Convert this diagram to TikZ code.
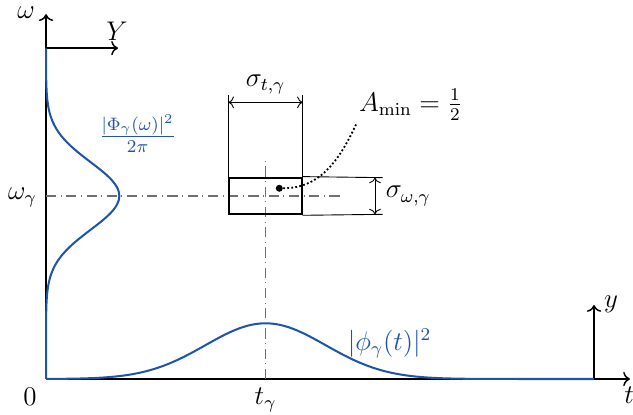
\documentclass[tikz,border=0pt]{standalone}
\usepackage{amsmath}
\usetikzlibrary{arrows.meta,positioning,calc}
\definecolor{WaveBlue}{RGB}{30,85,170}
\definecolor{GuideGray}{RGB}{110,110,110}

\begin{document}
\begin{tikzpicture}[
  axis/.style={->,line width=0.65pt},
  wave/.style={WaveBlue,line width=0.9pt},
  guide/.style={GuideGray,line width=0.5pt,dash pattern=on 4.5pt off 2pt on 0.5pt off 2pt},
  dim/.style={line width=0.4pt},
  lbl/.style={inner sep=1pt,font=\large},
]
\useasboundingbox (-0.719,-0.547) rectangle (9.172,5.922);
% axes
\coordinate (O) at (0,0);
\coordinate (tend) at (9.125,0);
\coordinate (wend) at (0,5.70);
\coordinate (Ystart) at (0,5.17);
\coordinate (Yend) at (1.125,5.17);
\coordinate (ystart) at (8.5625,0);
\coordinate (yend) at (8.5625,1.156);
\draw[axis] (O) -- (tend);
\draw[axis] (O) -- (wend);
\draw[axis] (Ystart) -- (Yend);
\draw[axis] (ystart) -- (yend);
\node[lbl] (tlab) at (9.11,-0.25) {$t$};
\node[lbl] (wlab) at (-0.31,5.72) {$\omega$};
\node[lbl] (Ylab) at (1.11,5.44) {$Y$};
\node[lbl] (ylab) at (8.83,1.16) {$y$};
\node[lbl] (zero) at (-0.25,-0.28) {$0$};
\node[lbl] (tglab) at (3.43,-0.33) {$t_\gamma$};
\node[lbl] (wglab) at (-0.37,2.83) {$\omega_\gamma$};
% guides through the centre
\coordinate (hstart) at (0,2.86);
\coordinate (hend) at (4.6,2.86);
\coordinate (vstart) at (3.43,0);
\coordinate (vend) at (3.43,3.45);
\draw[guide] (hstart) -- (hend);
\draw[guide] (vstart) -- (vend);
% spectra
\draw[wave] plot[domain=0:8.5625,samples=160] (\x,{0.87*exp(-((\x-3.43)^2)/(2*0.94^2))});
\draw[wave] plot[domain=0:5.17,samples=160] ({1.145*exp(-((\x-2.86)^2)/(2*0.53^2))},\x);
\node[lbl,text=WaveBlue] (Philab) at (1.43,3.83) {$\frac{|\Phi_\gamma(\omega)|^2}{2\pi}$};
\node[lbl,text=WaveBlue] (philab) at (5.37,0.55) {$|\phi_\gamma(t)|^2$};
% Heisenberg box
\node[draw,line width=0.9pt,minimum width=1.13cm,minimum height=0.573cm,inner sep=0pt] (box) at (3.43,2.86) {};
\coordinate (twl) at ($(box.north west)+(0,1.28)$);
\coordinate (twr) at ($(box.north east)+(0,1.28)$);
\coordinate (tal) at ($(box.north west)+(0,1.16)$);
\coordinate (tar) at ($(box.north east)+(0,1.16)$);
\draw[dim] (box.north west) -- (twl);
\draw[dim] (box.north east) -- (twr);
\draw[dim,<->] (tal) -- (tar);
\node[lbl] (sigt) at (3.43,4.6) {$\sigma_{t,\gamma}$};
\coordinate (wht) at (5.26,3.146);
\coordinate (whb) at (5.26,2.573);
\coordinate (wat) at (5.14,3.146);
\coordinate (wab) at (5.14,2.573);
\draw[dim] (box.north east) -- (wht);
\draw[dim] (box.south east) -- (whb);
\draw[dim,<->] (wat) -- (wab);
\node[lbl] (sigw) at (5.66,2.86) {$\sigma_{\omega,\gamma}$};
% minimal area
\node[circle,fill,inner sep=1.1pt] (Adot) at (3.645,2.98) {};
\coordinate (Aend) at (4.855,4.0);
\draw[densely dotted,line width=0.8pt] (Adot) to[out=0,in=-115] (Aend);
\node[lbl] (Alab) at (5.7,4.28) {$A_{\min}=\frac{1}{2}$};
\end{tikzpicture}
\end{document}
